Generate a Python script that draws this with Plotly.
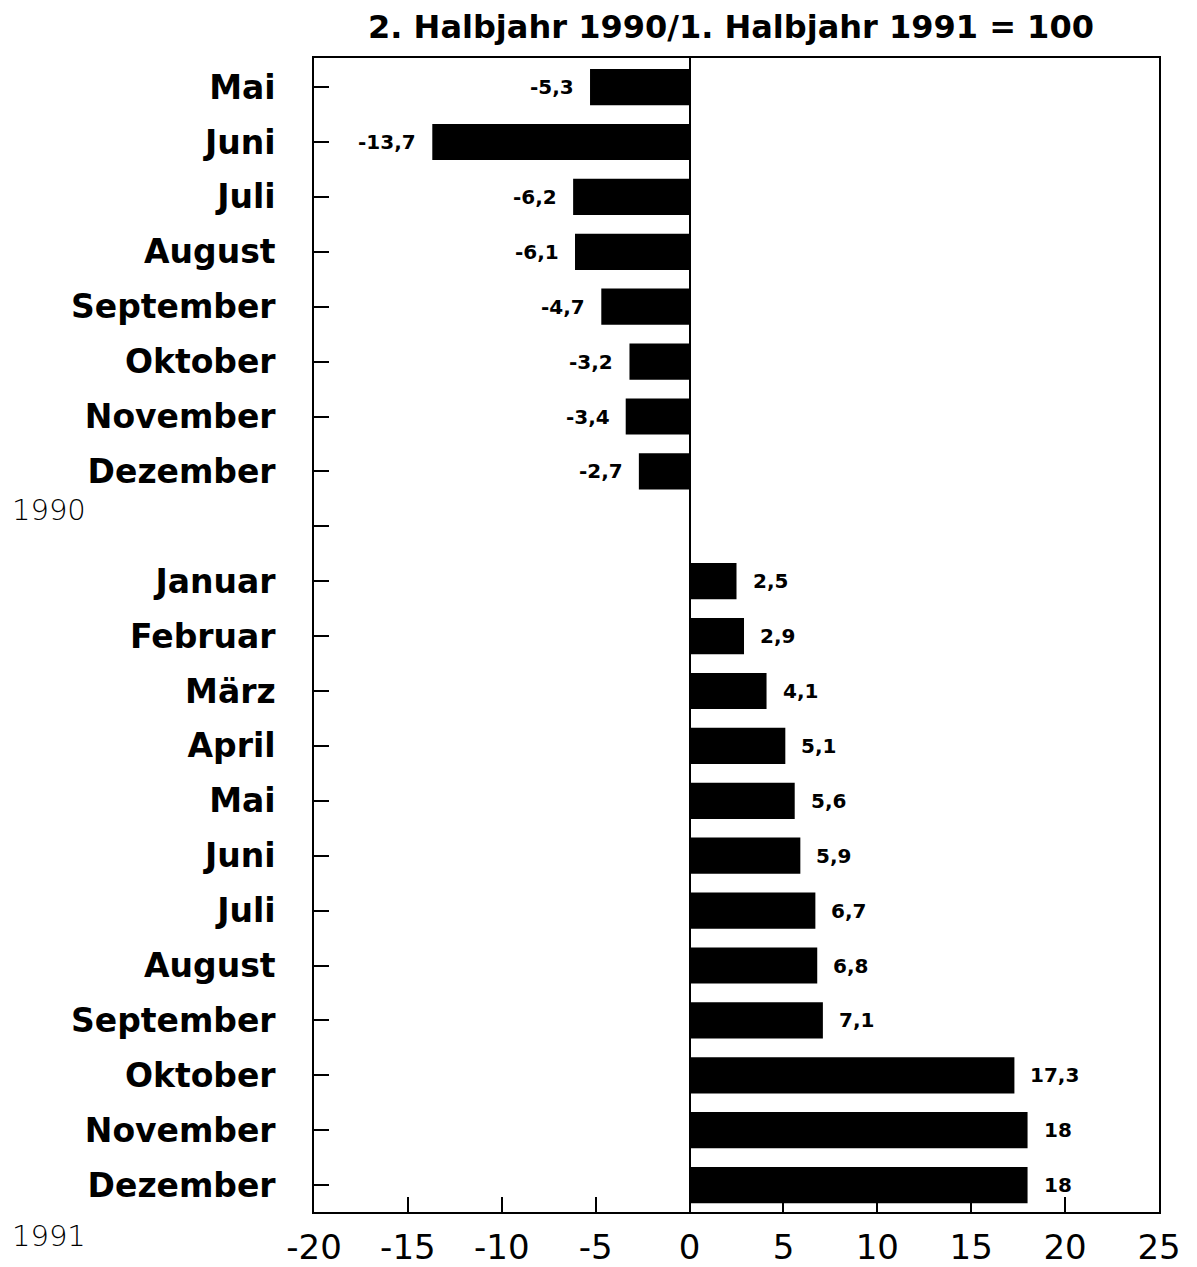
import plotly.graph_objects as go

months = ["Mai", "Juni", "Juli", "August", "September", "Oktober", "November", "Dezember",
          "",
          "Januar", "Februar", "März", "April", "Mai", "Juni", "Juli", "August",
          "September", "Oktober", "November", "Dezember"]
values = [-5.3, -13.7, -6.2, -6.1, -4.7, -3.2, -3.4, -2.7,
          None,
          2.5, 2.9, 4.1, 5.1, 5.6, 5.9, 6.7, 6.8, 7.1, 17.3, 18, 18]
value_labels = ["-5,3", "-13,7", "-6,2", "-6,1", "-4,7", "-3,2", "-3,4", "-2,7",
                "",
                "2,5", "2,9", "4,1", "5,1", "5,6", "5,9", "6,7", "6,8", "7,1", "17,3", "18", "18"]
x_ticks = [-20, -15, -10, -5, 0, 5, 10, 15, 20, 25]
x_ticktext = ["-20", "-15", "-10", "-5", "0", "5", "10", "15", "20", "25"]
title_text = "2. Halbjahr 1990/1. Halbjahr 1991 = 100"
year_labels = ["1990", "1991"]

W, H = 1197, 1267
ML, MR, MT, MB = 306, 46, 50, 63

rows = list(range(len(months)))
bar_x = [v if v is not None else 0 for v in values]

fig = go.Figure()
fig.add_trace(go.Bar(
    x=bar_x, y=rows, orientation="h", width=0.66,
    marker=dict(color="black", line=dict(width=0)),
    hoverinfo="skip", showlegend=False,
))

annotations = []
for r, v, t in zip(rows, values, value_labels):
    if v is None:
        continue
    annotations.append(dict(
        x=v, y=r, xref="x", yref="y", text=t, showarrow=False,
        xanchor="right" if v < 0 else "left",
        xshift=-14 if v < 0 else 14,
        font=dict(family="DejaVu Sans", size=20, color="black", weight="bold"),
    ))

plot_w = W - ML - MR
plot_h = H - MT - MB
def px(pix):
    return (pix - ML) / plot_w
def py(pix):
    return (H - MB - pix) / plot_h

for lab, ypix in zip(year_labels, [502, 1228]):
    annotations.append(dict(x=px(2), y=py(ypix), xref="paper", yref="paper", text=lab,
                            showarrow=False, xanchor="left", yanchor="middle",
                            font=dict(family="DejaVu Sans", size=29, color="black", weight=200)))

fig.update_layout(
    width=W, height=H,
    margin=dict(l=ML, r=MR, t=MT, b=MB),
    paper_bgcolor="white", plot_bgcolor="white",
    title=dict(text=title_text, x=0.604, xanchor="center", y=1 - 19 / H, yanchor="middle",
               font=dict(family="DejaVu Sans", size=32, color="black", weight="bold")),
    xaxis=dict(
        range=[-20, 25], tickvals=x_ticks, ticktext=x_ticktext,
        ticks="inside", ticklen=15, tickwidth=1.5, tickcolor="black",
        showline=True, linecolor="black", linewidth=1.5, mirror=True,
        showgrid=False, zeroline=True, zerolinecolor="black", zerolinewidth=1.5,
        tickfont=dict(family="DejaVu Sans", size=34, color="black"),
        ticklabelstandoff=4, automargin=False,
    ),
    yaxis=dict(
        range=[20.49, -0.53], tickvals=rows, ticktext=months,
        ticks="inside", ticklen=15, tickwidth=1.5, tickcolor="black",
        showline=True, linecolor="black", linewidth=1.5, mirror=True,
        showgrid=False, zeroline=False,
        tickfont=dict(family="DejaVu Sans", size=33, color="black", weight="bold"),
        ticklabelstandoff=30, automargin=False,
    ),
    annotations=annotations,
)

fig.write_html("out.html")
